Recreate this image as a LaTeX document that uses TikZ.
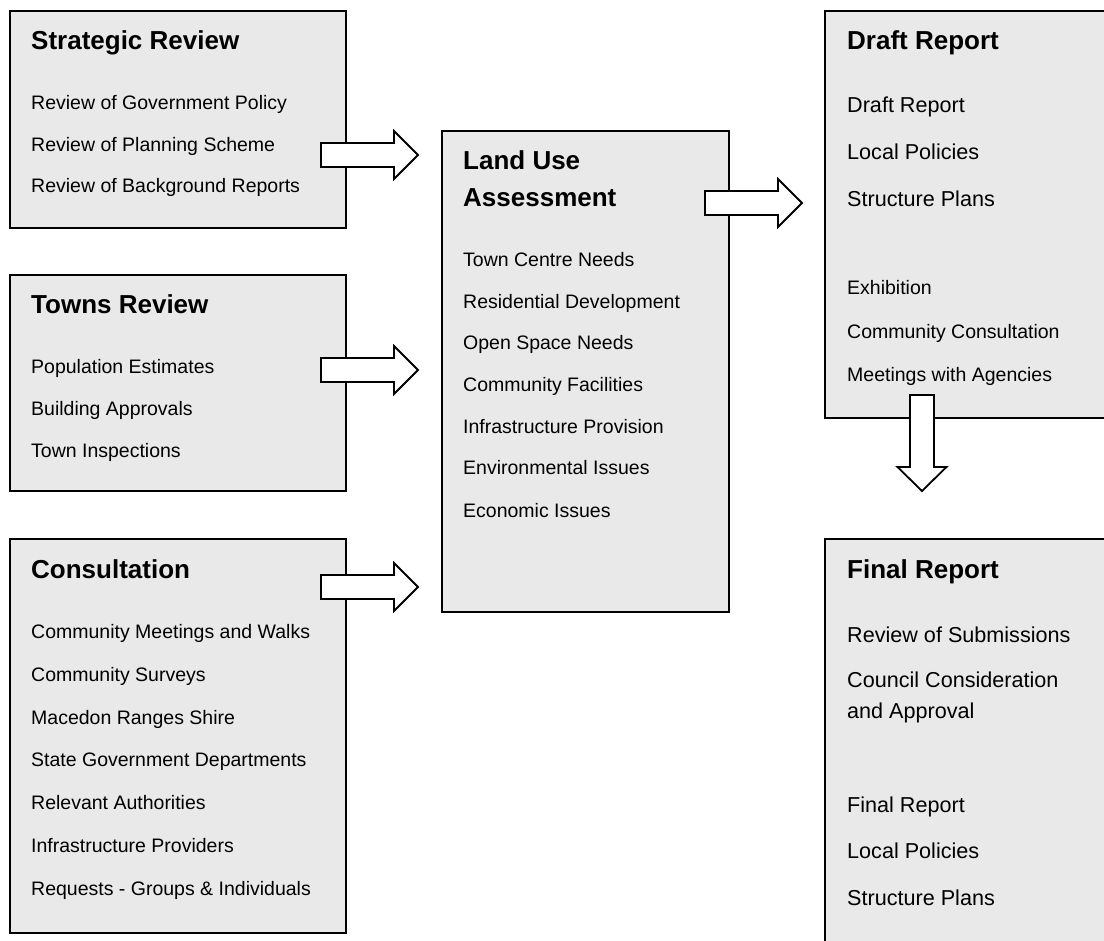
\documentclass[tikz,border=0pt]{standalone}
\usepackage{fontspec}
\setmainfont{Liberation Sans}
\definecolor{boxgray}{HTML}{E9E9E9}
\tikzset{
  box/.style={draw=black, line width=1.8pt, fill=boxgray, anchor=north west, inner sep=0pt, outer sep=0pt},
  ttl/.style={font=\fontsize{26}{31}\selectfont\bfseries, anchor=base west, inner sep=0pt},
  itm/.style={font=\fontsize{19.5}{23}\selectfont, anchor=base west, inner sep=0pt},
  itmb/.style={font=\fontsize{21.6}{26}\selectfont, anchor=base west, inner sep=0pt},
  barrow/.style={draw=black, line width=1.8pt, fill=white, line join=miter},
  pics/rarrow/.style={code={
    \draw[barrow] (0,-12) -- (73,-12) -- (73,-24) -- (97,0) -- (73,24) -- (73,12) -- (0,12) -- cycle;}},
  pics/darrow/.style={code={
    \draw[barrow] (-12,0) -- (-12,72) -- (-24.5,72) -- (0,96) -- (24.5,72) -- (12,72) -- (12,0) -- cycle;}}
}
\begin{document}
\begin{tikzpicture}[x=1pt,y=-1pt]
\useasboundingbox (0,0) rectangle (1104,941);
\clip (0,0) rectangle (1104,941);

% boxes
\node[box, minimum width=336pt, minimum height=217pt] (sr) at (10,11) {};
\node[box, minimum width=336pt, minimum height=216pt] (tr) at (10,275) {};
\node[box, minimum width=336pt, minimum height=394pt] (co) at (10,539) {};
\node[box, minimum width=287pt, minimum height=481pt] (lu) at (442,131) {};
\node[box, minimum width=300pt, minimum height=407pt] (dr) at (825,11) {};
\node[box, minimum width=300pt, minimum height=420pt] (fr) at (825,539) {};

% Strategic Review
\node[ttl] (srt) at (31,50) {Strategic Review};
\node[itm] (sr1) at (31,110) {Review of Government Policy};
\node[itm] (sr2) at (31,152) {Review of Planning Scheme};
\node[itm] (sr3) at (31,193) {Review of Background Reports};

% Towns Review
\node[ttl] (trt) at (31,314) {Towns Review};
\node[itm] (tr1) at (31,374) {Population Estimates};
\node[itm] (tr2) at (31,416) {Building Approvals};
\node[itm] (tr3) at (31,457) {Town Inspections};

% Consultation
\node[ttl] (cot) at (31,578) {Consultation};
\node[itm] (co1) at (31,638) {Community Meetings and Walks};
\node[itm] (co2) at (31,681) {Community Surveys};
\node[itm] (co3) at (31,724) {Macedon Ranges Shire};
\node[itm] (co4) at (31,766) {State Government Departments};
\node[itm] (co5) at (31,809) {Relevant Authorities};
\node[itm] (co6) at (31,852) {Infrastructure Providers};
\node[itm] (co7) at (31,895) {Requests - Groups \& Individuals};

% Land Use Assessment
\node[ttl] (lut1) at (463,170) {Land Use};
\node[ttl] (lut2) at (463,207) {Assessment};
\node[itm] (lu1) at (463,267) {Town Centre Needs};
\node[itm] (lu2) at (463,309) {Residential Development};
\node[itm] (lu3) at (463,350) {Open Space Needs};
\node[itm] (lu4) at (463,392) {Community Facilities};
\node[itm] (lu5) at (463,434) {Infrastructure Provision};
\node[itm] (lu6) at (463,475) {Environmental Issues};
\node[itm] (lu7) at (463,517) {Economic Issues};

% Draft Report
\node[ttl] (drt) at (847,50) {Draft Report};
\node[itmb] (dr1) at (847,113) {Draft Report};
\node[itmb] (dr2) at (847,160) {Local Policies};
\node[itmb] (dr3) at (847,207) {Structure Plans};
\node[itm] (dr4) at (847,295) {Exhibition};
\node[itm] (dr5) at (847,339) {Community Consultation};
\node[itm] (dr6) at (847,382) {Meetings with Agencies};

% Final Report
\node[ttl] (frt) at (847,578) {Final Report};
\node[itmb] (fr1) at (847,642) {Review of Submissions};
\node[itmb] (fr2) at (847,687) {Council Consideration};
\node[itmb] (fr2b) at (847,718) {and Approval};
\node[itmb] (fr3) at (847,812) {Final Report};
\node[itmb] (fr4) at (847,858) {Local Policies};
\node[itmb] (fr5) at (847,905) {Structure Plans};

% block arrows
\pic (a1) at (321,155) {rarrow};
\pic (a2) at (321,370) {rarrow};
\pic (a3) at (321,587) {rarrow};
\pic (a4) at (705,203) {rarrow};
\pic (a5) at (922,395) {darrow};
\end{tikzpicture}
\end{document}
